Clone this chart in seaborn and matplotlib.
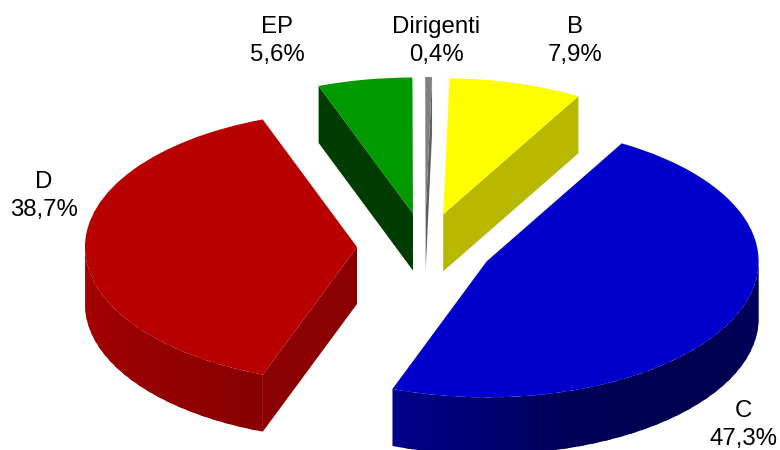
import numpy as np
import matplotlib
matplotlib.use('Agg')
import matplotlib.pyplot as plt
import seaborn as sns

# Shares
categories = ['C', 'D', 'EP', 'Dirigenti', 'B']
shares = [47.3, 38.7, 5.6, 0.4, 7.9]

top_colors = ['#0000CC', '#B80000', '#009900', '#808080', '#FFFF00']
# side shading, left to right along the rim
rim_colors = [['#000088', '#000058', '#000050', '#00005C'],
              ['#A80000', '#980000', '#880000'],
              ['#003C00', '#003C00'],
              ['#A0A0A0', '#505050'],
              ['#B8B800', '#B8B800']]
cut_colors = ['#000058', '#8B0000', '#003C00', '#606060', '#B8B800']

# where each label block is centred, in pixels
label_pos = [(743, 425), (44, 196), (277, 41), (436, 41), (575, 41)]

W, H = 780, 450
CX, CY = 425, 247      # pie centre in pixels
RX, RY = 272, 136      # pixels per pie radius
DEPTH = 57 / RY

sns.set_theme(style='white')
plt.rcParams['font.family'] = ['Liberation Sans', 'DejaVu Sans']

fig = plt.figure(figsize=(W / 100, H / 100), dpi=100)
ax = fig.add_axes([0, 0, 1, 1])

wedges, _ = ax.pie(shares, colors=top_colors, startangle=60.2, counterclock=False,
                   explode=[0.25] * len(shares), normalize=True,
                   wedgeprops={'zorder': 3, 'linewidth': 0})

# squash the circle into the tilted ellipse
ax.set_aspect('auto')
ax.set_xlim(-CX / RX, (W - CX) / RX)
ax.set_ylim((CY - H) / RY, CY / RY)


def cut_face(center, theta, color):
    x0, y0 = center
    x1 = x0 + np.cos(np.radians(theta))
    y1 = y0 + np.sin(np.radians(theta))
    ax.fill([x0, x1, x1, x0], [y0, y1, y1 - DEPTH, y0 - DEPTH], color=color,
            linewidth=0, zorder=2)


def rim(center, t1, t2, stops):
    # only the front half of the rim can be seen
    for k in (-720, -360, 0, 360):
        a, b = max(t1, -180 + k), min(t2, k)
        if b <= a:
            continue
        n = max(int((b - a) / 3), 2)
        edges = np.linspace(a, b, n + 1)
        pal = sns.blend_palette(stops, n)
        for i in range(n):
            # run each band on under the next one so no seam shows
            seg = np.linspace(edges[i], b if i == n - 1 else edges[i + 1] + 1.5, 8)
            px = center[0] + np.cos(np.radians(seg))
            py = center[1] + np.sin(np.radians(seg))
            ax.fill(np.r_[px, px[::-1]], np.r_[py, py[::-1] - DEPTH], color=pal[i],
                    linewidth=0, zorder=1 + i * 0.001)


for wedge, stops, cut in zip(wedges, rim_colors, cut_colors):
    t1, t2 = wedge.theta1, wedge.theta2
    rim(wedge.center, t1, t2, stops)
    if np.cos(np.radians(t1)) > 0:
        cut_face(wedge.center, t1, cut)
    if np.cos(np.radians(t2)) < 0:
        cut_face(wedge.center, t2, cut)

for name, val, (px, py) in zip(categories, shares, label_pos):
    txt = f"{name}\n{val:.1f}%".replace('.', ',')
    fig.text(px / W, 1 - py / H, txt, ha='center', va='center', fontsize=17.3,
             color='black', linespacing=1.32)

fig.savefig('out.png', dpi=100, facecolor='white')
